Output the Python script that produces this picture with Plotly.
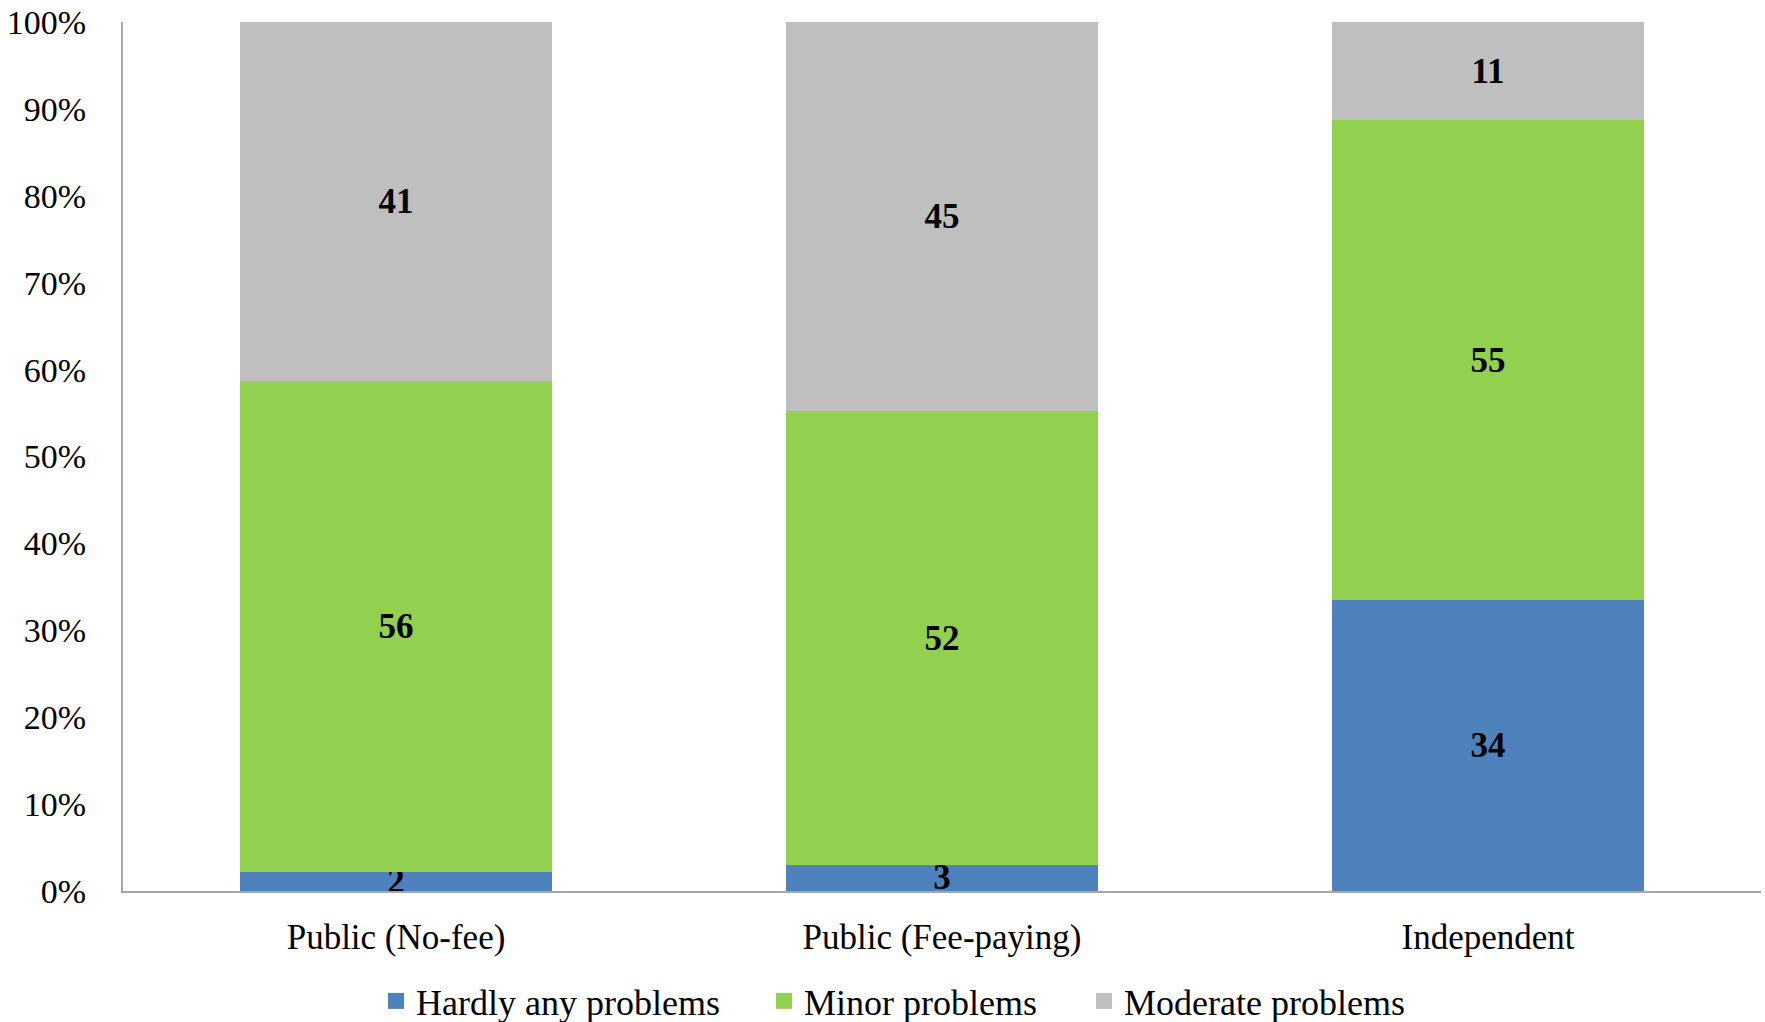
import plotly.graph_objects as go

categories = ["Public (No-fee)", "Public (Fee-paying)", "Independent"]
series_names = ["Hardly any problems", "Minor problems", "Moderate problems"]
hardly_any = [2.2, 3.0, 33.5]
minor = [56.5, 52.2, 55.2]
moderate = [41.3, 44.8, 11.3]
hardly_labels = ["2", "3", "34"]
minor_labels = ["56", "52", "55"]
moderate_labels = ["41", "45", "11"]
colors = ["#4F81BD", "#92D050", "#BFBFBF"]
y_ticks = [0, 10, 20, 30, 40, 50, 60, 70, 80, 90, 100]
y_tick_labels = [f"{t}%" for t in y_ticks]

FONT = "Liberation Serif, Times New Roman, serif"

# plot area in pixels (for legend placement in paper coords)
L, R, T, B = 123, 4, 22, 131
W, H = 1765, 1022
PW, PH = W - L - R, H - T - B
legend_px = [376, 764, 1084]  # left edge of each legend box
legend_names = ["legend", "legend2", "legend3"]

fig = go.Figure()
for name, vals, labs, col in zip(series_names, [hardly_any, minor, moderate],
                                 [hardly_labels, minor_labels, moderate_labels], colors):
    fig.add_trace(go.Bar(
        x=categories, y=vals, name=name, text=labs, showlegend=False,
        marker=dict(color=col, line=dict(width=0)),
        textposition="inside", insidetextanchor="middle", constraintext="none",
        textangle=0,
        textfont=dict(family=FONT, size=35, color="black", weight="bold"),
        cliponaxis=False,
    ))

# legend entries (empty traces with square markers)
for name, col, lg in zip(series_names, colors, legend_names):
    fig.add_trace(go.Scatter(
        x=[None], y=[None], mode="markers", name=name, legend=lg,
        marker=dict(symbol="square", size=18, color=col),
        showlegend=True,
    ))

legend_common = dict(orientation="h", yanchor="middle", xanchor="left",
                     y=(T + PH - 1001) / PH,
                     font=dict(family=FONT, size=36, color="black"),
                     bgcolor="rgba(0,0,0,0)", borderwidth=0, itemwidth=30)

layout_legends = {}
for lg, px in zip(legend_names, legend_px):
    layout_legends[lg] = dict(legend_common, x=(px - L) / PW)

fig.update_layout(
    barmode="stack", barnorm="percent", bargap=0.428,
    width=W, height=H,
    margin=dict(l=L, r=R, t=T, b=B, autoexpand=False),
    paper_bgcolor="white", plot_bgcolor="white",
    font=dict(family=FONT, size=34, color="black"),
    **layout_legends,
)
fig.update_xaxes(showline=True, linecolor="#A6A6A6", linewidth=2, ticks="",
                 showgrid=False, ticklabelstandoff=14,
                 tickfont=dict(family=FONT, size=35, color="black"))
fig.update_yaxes(range=[0, 100], tickvals=y_ticks, ticktext=y_tick_labels,
                 showline=True, linecolor="#A6A6A6", linewidth=2, ticks="",
                 showgrid=False, zeroline=False, ticklabelstandoff=28,
                 tickfont=dict(family=FONT, size=34, color="black"))

fig.write_html("out.html")
